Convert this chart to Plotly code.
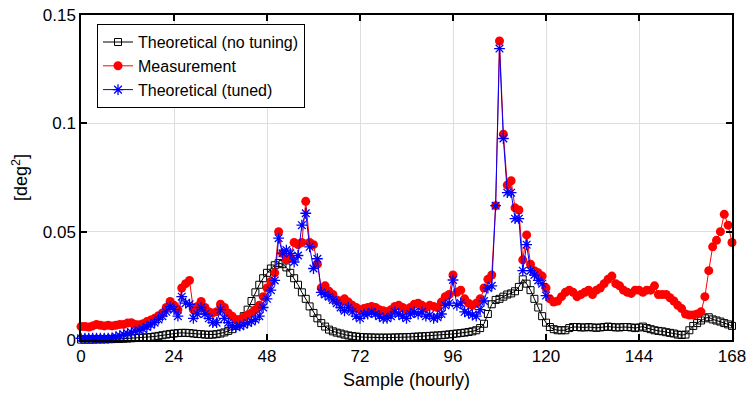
import plotly.graph_objects as go

hours = list(range(0, 169))
hours_tuned = list(range(0, 121))

measurement = [
    0.0062, 0.0062, 0.0060, 0.0065, 0.0072, 0.0068, 0.0065, 0.0068, 0.0065, 0.0068,
    0.0072, 0.0072, 0.0078, 0.0080, 0.0072, 0.0070, 0.0075, 0.0085, 0.0092, 0.0100,
    0.0112, 0.0125, 0.0150, 0.0178, 0.0160, 0.0140, 0.0240, 0.0260, 0.0275, 0.0140,
    0.0155, 0.0178, 0.0150, 0.0130, 0.0125, 0.0130, 0.0165, 0.0150, 0.0125, 0.0110,
    0.0095, 0.0095, 0.0105, 0.0115, 0.0125, 0.0140, 0.0160, 0.0200, 0.0240, 0.0270,
    0.0310, 0.0500, 0.0400, 0.0370, 0.0380, 0.0450, 0.0440, 0.0450, 0.0640, 0.0450,
    0.0440, 0.0350, 0.0240, 0.0250, 0.0225, 0.0210, 0.0185, 0.0180, 0.0190, 0.0175,
    0.0160, 0.0150, 0.0140, 0.0145, 0.0150, 0.0155, 0.0150, 0.0140, 0.0135, 0.0130,
    0.0140, 0.0155, 0.0160, 0.0150, 0.0140, 0.0150, 0.0165, 0.0170, 0.0160, 0.0150,
    0.0160, 0.0155, 0.0150, 0.0175, 0.0200, 0.0210, 0.0300, 0.0220, 0.0230, 0.0190,
    0.0170, 0.0160, 0.0170, 0.0190, 0.0240, 0.0280, 0.0300, 0.0620, 0.1380, 0.0950,
    0.0715, 0.0735, 0.0610, 0.0600, 0.0370, 0.0485, 0.0350, 0.0320, 0.0310, 0.0295,
    0.0240, 0.0190, 0.0175, 0.0180, 0.0200, 0.0220, 0.0230, 0.0220, 0.0200, 0.0210,
    0.0220, 0.0230, 0.0210, 0.0230, 0.0240, 0.0260, 0.0280, 0.0295, 0.0260, 0.0250,
    0.0230, 0.0220, 0.0215, 0.0230, 0.0230, 0.0220, 0.0230, 0.0230, 0.0250, 0.0210,
    0.0210, 0.0210, 0.0195, 0.0180, 0.0160, 0.0145, 0.0120, 0.0115, 0.0115, 0.0120,
    0.0130, 0.0200, 0.0320, 0.0430, 0.0460, 0.0500, 0.0580, 0.0530, 0.0450,
]

theoretical_tuned = [
    0.0008, 0.0008, 0.0008, 0.0008, 0.0008, 0.0008, 0.0008, 0.0008, 0.0010, 0.0015,
    0.0020, 0.0025, 0.0030, 0.0035, 0.0040, 0.0045, 0.0050, 0.0060, 0.0070, 0.0080,
    0.0095, 0.0110, 0.0130, 0.0155, 0.0140, 0.0110, 0.0200, 0.0170, 0.0165, 0.0100,
    0.0120, 0.0150, 0.0120, 0.0100, 0.0080, 0.0080, 0.0140, 0.0100, 0.0080, 0.0065,
    0.0060, 0.0065, 0.0070, 0.0080, 0.0085, 0.0095, 0.0110, 0.0150, 0.0190, 0.0230,
    0.0275, 0.0470, 0.0400, 0.0415, 0.0400, 0.0360, 0.0390, 0.0530, 0.0585, 0.0430,
    0.0330, 0.0375, 0.0220, 0.0210, 0.0200, 0.0185, 0.0170, 0.0150, 0.0135, 0.0150,
    0.0130, 0.0110, 0.0100, 0.0120, 0.0120, 0.0130, 0.0120, 0.0110, 0.0100, 0.0100,
    0.0110, 0.0130, 0.0120, 0.0110, 0.0100, 0.0120, 0.0130, 0.0120, 0.0130, 0.0110,
    0.0115, 0.0100, 0.0105, 0.0120, 0.0160, 0.0170, 0.0277, 0.0160, 0.0170, 0.0130,
    0.0125, 0.0115, 0.0110, 0.0140, 0.0180, 0.0240, 0.0250, 0.0620, 0.1345, 0.0930,
    0.0680, 0.0680, 0.0560, 0.0560, 0.0320, 0.0440, 0.0320, 0.0300, 0.0275, 0.0260,
    0.0205,
]

theoretical_no_tuning = [
    0.0002, 0.0002, 0.0002, 0.0002, 0.0003, 0.0003, 0.0003, 0.0004, 0.0004, 0.0005,
    0.0005, 0.0006, 0.0007, 0.0008, 0.0009, 0.0010, 0.0011, 0.0012, 0.0014, 0.0016,
    0.0019, 0.0022, 0.0025, 0.0028, 0.0030, 0.0032, 0.0033, 0.0033, 0.0032, 0.0030,
    0.0028, 0.0027, 0.0025, 0.0024, 0.0025, 0.0027, 0.0030, 0.0035, 0.0042, 0.0050,
    0.0065, 0.0085, 0.0110, 0.0140, 0.0180, 0.0220, 0.0255, 0.0285, 0.0310, 0.0330,
    0.0345, 0.0355, 0.0350, 0.0335, 0.0310, 0.0285, 0.0255, 0.0220, 0.0190, 0.0155,
    0.0125, 0.0100, 0.0078, 0.0062, 0.0048, 0.0040, 0.0034, 0.0030, 0.0025, 0.0021,
    0.0018, 0.0016, 0.0014, 0.0013, 0.0012, 0.0012, 0.0011, 0.0011, 0.0011, 0.0011,
    0.0011, 0.0012, 0.0012, 0.0013, 0.0013, 0.0014, 0.0015, 0.0016, 0.0017, 0.0018,
    0.0019, 0.0020, 0.0021, 0.0022, 0.0024, 0.0026, 0.0028, 0.0030, 0.0032, 0.0034,
    0.0037, 0.0040, 0.0045, 0.0055, 0.0075, 0.0120, 0.0165, 0.0185, 0.0190, 0.0200,
    0.0210, 0.0215, 0.0225, 0.0245, 0.0280, 0.0260, 0.0230, 0.0190, 0.0150, 0.0110,
    0.0080, 0.0060, 0.0050, 0.0045, 0.0045, 0.0045, 0.0055, 0.0060, 0.0060, 0.0058,
    0.0058, 0.0060, 0.0058, 0.0056, 0.0058, 0.0060, 0.0062, 0.0060, 0.0058, 0.0058,
    0.0060, 0.0060, 0.0058, 0.0055, 0.0058, 0.0062, 0.0055, 0.0050, 0.0045, 0.0042,
    0.0040, 0.0036, 0.0033, 0.0030, 0.0025, 0.0023, 0.0025, 0.0045, 0.0065, 0.0078,
    0.0090, 0.0100, 0.0105, 0.0095, 0.0090, 0.0085, 0.0078, 0.0072, 0.0065,
]

x_ticks = [0, 24, 48, 72, 96, 120, 144, 168]
y_ticks = [0, 0.05, 0.1, 0.15]
y_tick_labels = ["0", "0.05", "0.1", "0.15"]

FONT = "Liberation Sans, Arial, Helvetica, sans-serif"

fig = go.Figure()
fig.add_trace(go.Scatter(
    x=hours, y=theoretical_no_tuning, mode="lines+markers",
    name="Theoretical (no tuning)",
    line=dict(color="black", width=1),
    marker=dict(symbol="square-open", size=7, color="black", line=dict(width=1)),
    cliponaxis=False,
))
fig.add_trace(go.Scatter(
    x=hours, y=measurement, mode="lines+markers",
    name="Measurement",
    line=dict(color="#ff0000", width=1),
    marker=dict(symbol="circle", size=9, color="#ff0000"),
    cliponaxis=False,
))
fig.add_trace(go.Scatter(
    x=hours_tuned, y=theoretical_tuned, mode="lines+markers",
    name="Theoretical (tuned)",
    line=dict(color="#0000ff", width=1),
    marker=dict(symbol="asterisk-open", size=9, color="#0000ff", line=dict(width=1.3, color="#0000ff")),
    cliponaxis=False,
))

axis_common = dict(
    showline=True, linecolor="black", linewidth=1.5, mirror="allticks",
    ticks="inside", ticklen=6, tickwidth=1.5, tickcolor="black",
    showgrid=True, gridcolor="#dedede", gridwidth=1, zeroline=False,
    tickfont=dict(family=FONT, size=17, color="black"),
    ticklabeloverflow="allow", automargin=False,
)

fig.update_layout(
    width=746, height=397,
    margin=dict(l=81, r=14, t=15, b=57),
    paper_bgcolor="white", plot_bgcolor="white",
    font=dict(family=FONT, color="black"),
    showlegend=True,
    legend=dict(
        x=0.0246, y=0.972, xanchor="left", yanchor="top",
        bgcolor="white", bordercolor="black", borderwidth=1,
        font=dict(family=FONT, size=16, color="black"),
        tracegroupgap=0,
    ),
    xaxis=dict(
        range=[0, 168], tickvals=x_ticks,
        title=dict(text="Sample (hourly)", font=dict(family=FONT, size=18, color="black"), standoff=8),
        **axis_common,
    ),
    yaxis=dict(
        range=[0, 0.15], tickvals=y_ticks, ticktext=y_tick_labels,
        title=dict(text="[deg<sup>2</sup>]", font=dict(family=FONT, size=18, color="black"), standoff=10),
        **axis_common,
    ),
)

fig.write_html("out.html")
